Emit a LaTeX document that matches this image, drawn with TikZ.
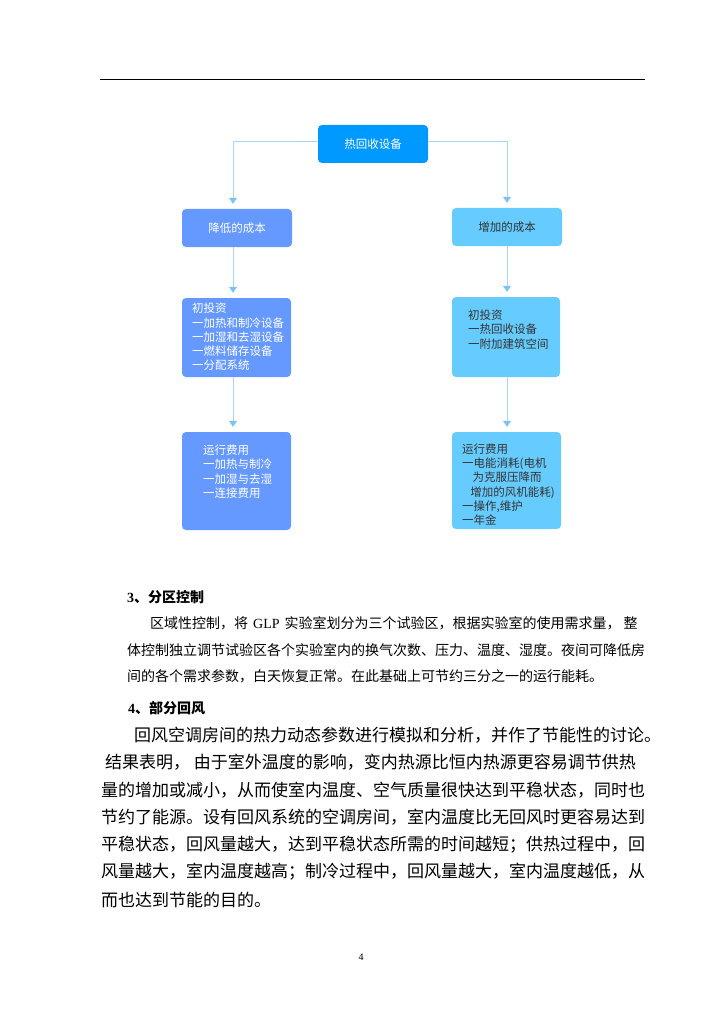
\documentclass[tikz,border=0pt]{standalone}
\usepackage{fontspec}
\setmainfont{Liberation Serif}
\newfontfamily\cjk{Noto Sans CJK SC}
\usetikzlibrary{arrows.meta}
\definecolor{topc}{HTML}{0099FF}
\definecolor{leftc}{HTML}{6699FF}
\definecolor{rightc}{HTML}{66CCFF}
\definecolor{linec}{HTML}{A9D5F8}
\definecolor{tipc}{HTML}{7EC3F6}
\definecolor{darktext}{HTML}{333333}
\begin{document}
\begin{tikzpicture}[x=1pt,y=-1pt,
  box/.style={rounded corners=4pt, inner sep=0, draw=none},
  boxtext/.style={font=\cjk\fontsize{11.5}{14.3}\selectfont},
  inbox/.style={anchor=west, inner sep=0, align=left, font=\cjk\fontsize{11.5}{14.3}\selectfont},
  conn/.style={draw=linec, line width=0.8pt, shorten >=5pt,
    -{Triangle[width=8pt,length=6pt,fill=tipc,color=tipc]}},
  body/.style={anchor=west, inner sep=0, font=\cjk\fontsize{14}{14}\selectfont},
  bigbody/.style={anchor=west, inner sep=0, font=\cjk\fontsize{17}{17}\selectfont},
  head/.style={anchor=west, inner sep=0, font=\cjk\bfseries\fontsize{14}{14}\selectfont}]
\useasboundingbox[fill=white] (0,0) rectangle (724,1024);

% top rule
\coordinate (rl) at (100,79);
\coordinate (rr) at (645,79);
\draw[line width=0.8pt] (rl) -- (rr);

% boxes
\node[box, fill=topc, minimum width=110pt, minimum height=38pt, text=white, boxtext] (top) at (373,144) {热回收设备};
\node[box, fill=leftc, minimum width=110pt, minimum height=38pt, text=white, boxtext] (a1) at (237,228) {降低的成本};
\node[box, fill=rightc, minimum width=110pt, minimum height=38pt, text=darktext, boxtext] (b1) at (507,227) {增加的成本};
\node[box, fill=leftc, minimum width=109pt, minimum height=79pt] (a2) at (236.5,337.5) {};
\node[box, fill=rightc, minimum width=108pt, minimum height=80pt] (b2) at (506,337) {};
\node[box, fill=leftc, minimum width=109pt, minimum height=98pt] (a3) at (236.5,481) {};
\node[box, fill=rightc, minimum width=109pt, minimum height=97pt] (b3) at (506.5,480.5) {};

\node[inbox, text=white] (ta2) at (192,337) {初投资\\一加热和制冷设备\\一加湿和去湿设备\\一燃料储存设备\\一分配系统};
\node[inbox, text=darktext] (tb2) at (468,329.5) {初投资\\一热回收设备\\一附加建筑空间};
\node[inbox, text=white] (ta3) at (203,471.5) {运行费用\\一加热与制冷\\一加湿与去湿\\一连接费用};
\node[inbox, text=darktext] (tb3) at (462,484.5) {运行费用\\一电能消耗(电机\\\hspace*{0.9em}为克服压降而\\\hspace*{0.7em}增加的风机能耗)\\一操作,维护\\一年金};

% connectors
\draw[conn] ([yshift=3pt]top.west) -| ([xshift=-4pt]a1.north);
\draw[conn] ([yshift=3pt]top.east) -| (b1.north);
\draw[conn] ([xshift=-4pt]a1.south) -- ([xshift=-3.5pt]a2.north);
\draw[conn] ([xshift=-3.5pt]a2.south) -- ([xshift=-3.5pt]a3.north);
\draw[conn] (b1.south) -- ([xshift=1pt]b2.north);
\draw[conn] ([xshift=1pt]b2.south) -- ([xshift=0.5pt]b3.north);

% section 3
\node[head] (h3) at (127,597) {{\rmfamily 3}、分区控制};
\node[body] (s31) at (150,623) {区域性控制，将\hspace{5pt}{\rmfamily GLP}\hspace{5pt}实验室划分为三个试验区，根据实验室的使用需求量，\hspace{3pt}整};
\node[body] (s32) at (127,650) {体控制独立调节试验区各个实验室内的换气次数、压力、温度、湿度。夜间可降低房};
\node[body] (s33) at (127,676) {间的各个需求参数，白天恢复正常。在此基础上可节约三分之一的运行能耗。};

% section 4
\node[head] (h4) at (128,708) {{\rmfamily 4}、部分回风};
\node[bigbody] (s41) at (134,735) {回风空调房间的热力动态参数进行模拟和分析，并作了节能性的讨论。};
\node[bigbody] (s42) at (101,762) {\ 结果表明， 由于室外温度的影响，变内热源比恒内热源更容易调节供热};
\node[bigbody] (s43) at (101,790) {量的增加或减小，从而使室内温度、空气质量很快达到平稳状态，同时也};
\node[bigbody] (s44) at (101,817) {节约了能源。设有回风系统的空调房间，室内温度比无回风时更容易达到};
\node[bigbody] (s45) at (101,845) {平稳状态，回风量越大，达到平稳状态所需的时间越短；供热过程中，回};
\node[bigbody] (s46) at (101,872) {风量越大，室内温度越高；制冷过程中，回风量越大，室内温度越低，从};
\node[bigbody] (s47) at (101,900) {而也达到节能的目的。};

% page number
\node[inner sep=0, font=\fontsize{10}{10}\selectfont] (pg) at (361,957) {4};
\end{tikzpicture}
\end{document}
